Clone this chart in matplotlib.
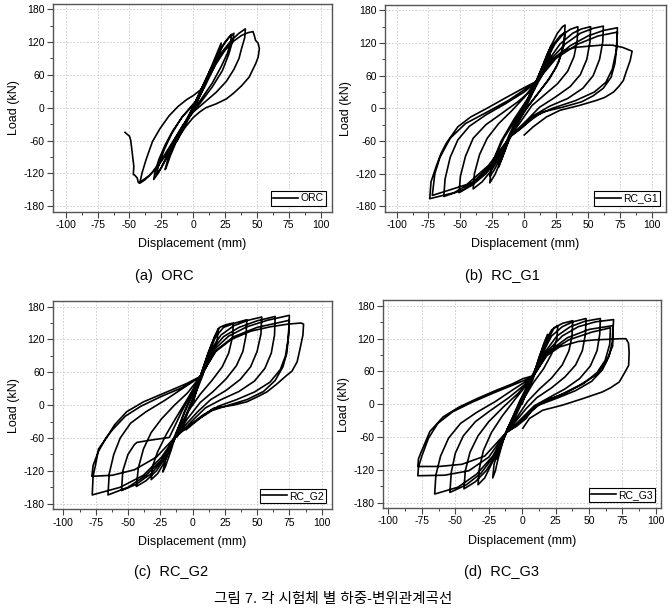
import numpy as np
import matplotlib.pyplot as plt
from matplotlib.ticker import AutoMinorLocator

plt.rcParams['font.family'] = ['Liberation Sans', 'Noto Sans CJK KR', 'DejaVu Sans']
plt.rcParams['axes.unicode_minus'] = False

specimens = ['ORC', 'RC_G1', 'RC_G2', 'RC_G3']
panel_tags = ['(a)', '(b)', '(c)', '(d)']
x_ticks = [-100, -75, -50, -25, 0, 25, 50, 75, 100]
y_ticks = [-180, -120, -60, 0, 60, 120, 180]
caption = '그림 7. 각 시험체 별 하중-변위관계곡선'

# load-displacement traces (mm, kN)
orc_trace = [
    (0, 0), (4, 22), (8, 42), (12, 62), (14, 72), (12, 58), (7, 30), (2, 5), (-4, -22), (-9, -45),
    (-13, -62), (-11, -50), (-6, -25), (0, 2),
    (6, 32), (12, 62), (17, 90), (21, 112), (22, 118), (21, 100), (16, 72), (9, 38), (2, 8), (-5, -22),
    (-12, -55), (-18, -88), (-21, -108), (-22, -113), (-20, -95), (-14, -62), (-6, -28), (2, 8),
    (8, 40), (14, 70), (20, 100), (25, 120), (29, 131), (30, 134), (29.5, 120), (27, 100), (22, 75),
    (15, 45), (7, 18), (0, -5), (-8, -32), (-15, -60), (-22, -95), (-27, -118), (-31, -131), (-30, -118),
    (-27, -95), (-22, -68), (-16, -42), (-8, -15), (3, 12),
    (9, 45), (16, 80), (23, 112), (28, 128), (32, 136), (31, 122), (28, 98), (23, 68), (15, 38), (6, 10),
    (-5, -22), (-13, -55), (-20, -88), (-25, -110), (-29, -122), (-27, -105), (-23, -78), (-17, -48),
    (-9, -18), (2, 12),
    (8, 40), (15, 72), (22, 100), (30, 123), (36, 136), (41, 144), (40.5, 128), (38, 108), (36, 90),
    (32, 70), (26, 48), (18, 28), (9, 10), (0, -8), (-8, -32), (-16, -62), (-24, -92), (-32, -118),
    (-38, -132), (-42, -138), (-40, -118), (-37, -95), (-32, -62), (-26, -38), (-19, -15), (-12, 2),
    (-5, 15), (0, 22), (6, 33),
    (12, 55), (18, 80), (25, 105), (32, 122), (38, 132), (43, 137), (47, 139), (48, 132), (49, 123),
    (51, 118), (52, 108), (51, 92), (49, 80), (44, 56), (38, 40), (32, 27), (26, 16), (18, 7), (10, 0),
    (5, -8), (0, -18), (-6, -35), (-12, -55), (-20, -82), (-28, -108), (-35, -125), (-40, -133),
    (-43, -137), (-44, -128), (-46, -123), (-47, -122), (-46.6, -107), (-48, -80), (-49, -60),
    (-50, -52), (-52.6, -47), (-53.5, -45),
]

g1_trace = [
    (0, 0), (5, 30), (10, 52), (8, 35), (3, 10), (-3, -15), (-8, -40), (-10, -50), (-8, -35), (-3, -10),
    (3, 15),
    (8, 42), (13, 70), (18, 100), (21, 115), (20, 95), (15, 65), (8, 35), (0, 5), (-6, -25), (-12, -58),
    (-17, -90), (-20, -108), (-18, -85), (-12, -50), (-5, -15), (3, 18),
    (9, 48), (15, 80), (21, 115), (26, 138), (30, 150), (32, 153), (31.5, 130), (29, 100), (25, 75),
    (18, 50), (10, 25), (2, 0), (-6, -30), (-12, -58), (-18, -95), (-23, -122), (-27, -137), (-26, -115),
    (-22, -85), (-16, -55), (-8, -25), (0, 5), (8, 40),
    (14, 75), (22, 115), (28, 133), (32, 140), (31, 115), (27, 85), (20, 55), (10, 25), (0, -5),
    (-10, -45), (-18, -90), (-24, -115), (-27, -125), (-25, -100), (-18, -60), (-8, -20), (2, 15), (9, 45),
    (16, 82), (24, 118), (30, 135), (36, 145), (42, 150), (41.5, 125), (39, 95), (34, 68), (26, 45),
    (16, 25), (6, 5), (-3, -25), (-11, -52), (-18, -85), (-26, -115), (-33, -135), (-40, -148),
    (-39, -120), (-35, -85), (-29, -55), (-20, -28), (-10, -5), (0, 20), (9, 48),
    (18, 85), (28, 118), (38, 138), (45, 146), (52, 150), (51.5, 122), (49, 90), (44, 62), (36, 40),
    (24, 20), (12, 2), (2, -22), (-10, -50), (-20, -92), (-30, -120), (-40, -140), (-51, -155),
    (-50, -125), (-46, -88), (-40, -55), (-30, -30), (-18, -10), (-5, 12), (5, 32), (10, 50),
    (20, 88), (32, 118), (44, 138), (54, 147), (62, 151), (61.5, 122), (59, 90), (54, 60), (46, 37),
    (34, 18), (20, 4), (6, -15), (-3, -35), (-11, -52), (-22, -95), (-35, -128), (-48, -150), (-63, -162),
    (-62, -130), (-58, -90), (-52, -58), (-43, -33), (-30, -12), (-15, 8), (0, 30), (10, 50),
    (22, 88), (36, 115), (50, 133), (62, 143), (73, 148), (72.5, 112), (71, 82), (68, 57), (62, 37),
    (54, 23), (45, 12), (30, 2), (14, -7), (5, -22), (-3, -38), (-11, -52), (-25, -102), (-40, -135),
    (-55, -155), (-74, -166), (-73, -135), (-69, -107), (-65, -82), (-61, -64), (-52, -34), (-42, -16),
    (-30, -1), (-14, 20), (0, 38), (10, 50),
    (25, 92), (42, 118), (58, 133), (73, 140), (72, 105), (69, 72), (64, 48), (55, 30), (40, 14),
    (22, 0), (8, -15), (-2, -35), (-11, -52), (-28, -105), (-45, -140), (-72, -160), (-70, -120),
    (-66, -90), (-58, -55), (-46, -28), (-30, -8), (-12, 15), (10, 50),
    (20, 85), (30, 105), (40, 112), (50, 114), (60, 116), (69, 116), (77, 112), (84.5, 105), (83, 88),
    (80, 68), (77.6, 51), (74, 40), (70, 30), (63, 20), (56.6, 14.6), (43.5, 5.5), (28, -3.6),
    (17.4, -15.8), (7, -34), (0, -49),
]

g2_trace = [
    (0, 0), (4, 35), (8, 60), (10, 72), (8, 55), (3, 25), (-3, -10), (-8, -40), (-12, -58), (-10, -45),
    (-5, -18), (0, 12), (5, 45),
    (10, 80), (15, 112), (19, 135), (20, 140), (19, 118), (15, 92), (9, 62), (2, 30), (-6, -10),
    (-12, -48), (-17, -85), (-21, -112), (-23, -122), (-21, -100), (-16, -68), (-9, -30), (-2, 10), (6, 52),
    (12, 95), (17, 125), (21, 142), (26, 147), (31.6, 150), (31, 125), (28, 95), (23, 70), (15, 45),
    (6, 20), (-3, -10), (-10, -42), (-16, -72), (-22, -105), (-27, -125), (-32, -136), (-31, -112),
    (-27, -85), (-20, -52), (-12, -20), (-3, 15), (6, 52),
    (12, 92), (18, 125), (24, 142), (33, 150), (42, 156), (41.5, 128), (39, 98), (34, 72), (26, 48),
    (16, 25), (6, 5), (-4, -25), (-13, -57), (-20, -92), (-28, -120), (-36, -138), (-43.5, -148.5),
    (-42, -115), (-38, -80), (-32, -50), (-24, -25), (-14, 0), (-4, 22), (6, 52),
    (14, 100), (22, 128), (32, 145), (43, 155), (53.6, 161), (53, 130), (50, 98), (45, 70), (37, 47),
    (26, 27), (14, 10), (4, -12), (-5, -35), (-13, -57), (-22, -97), (-32, -125), (-44, -145), (-55, -156),
    (-54, -120), (-50, -90), (-45, -72), (-43, -68), (-30, -63), (-18, -59), (-8, -10), (6, 52),
    (14, 98), (24, 125), (36, 142), (50, 154), (64, 162), (63.5, 128), (61, 95), (56, 67), (48, 44),
    (36, 25), (22, 10), (10, -5), (0, -28), (-7, -45), (-13, -57), (-24, -100), (-36, -128), (-50, -150),
    (-65.5, -164), (-64.5, -125), (-61, -90), (-56, -60), (-48, -33), (-36, -12), (-22, 8), (-8, 30), (6, 52),
    (16, 100), (28, 126), (42, 143), (58, 155), (75, 164), (74.5, 130), (73, 95), (70, 70), (64, 45),
    (55, 25), (42, 10), (28, 0), (15, -10), (5, -25), (-5, -42), (-13, -57), (-24, -95), (-38, -128),
    (-56, -150), (-77.7, -164), (-77, -130), (-74.6, -103), (-72.8, -80), (-66.8, -60), (-60.4, -36),
    (-51, -12), (-38, 6), (-20, 24), (-5, 39), (6, 52),
    (18, 100), (32, 125), (50, 142), (75, 155), (74, 120), (72, 90), (68, 65), (60, 42), (48, 24),
    (34, 10), (20, -2), (8, -18), (-3, -38), (-13, -57), (-28, -95), (-45, -118), (-62, -128), (-78, -130),
    (-77, -110), (-73, -85), (-67, -60), (-62, -45), (-52, -20), (-40, -2), (-25, 15), (-8, 32), (6, 52),
    (18, 98), (30, 120), (45, 135), (60, 143), (74, 148), (84, 150), (86, 148), (85.5, 128), (83, 100),
    (81, 79), (77, 62), (73, 54.5), (65, 38), (57.5, 24), (50, 15), (42, 6), (31.6, 0), (16, -6),
    (5.7, -24), (0, -35), (-5, -45),
]

g3_trace = [
    (0, 0), (4, 30), (8, 50), (10, 60), (8, 45), (3, 20), (-3, -12), (-8, -38), (-12, -52), (-10, -40),
    (-5, -15), (0, 12), (8, 50),
    (12, 80), (16, 110), (19, 128), (18, 110), (13, 80), (6, 45), (-2, 5), (-10, -40), (-16, -78),
    (-19, -100), (-17, -80), (-11, -45), (-3, -5), (8, 50),
    (13, 88), (18, 118), (22, 136), (26.6, 144), (26, 120), (22, 92), (16, 65), (8, 38), (0, 5),
    (-8, -32), (-14, -65), (-18, -100), (-20, -122), (-22, -135), (-21, -110), (-17, -78), (-11, -45),
    (-3, -5), (8, 50),
    (14, 90), (20, 122), (24, 140), (30, 148), (37.8, 153), (37.3, 125), (35, 98), (30, 72), (22, 48),
    (13, 28), (4, 5), (-5, -28), (-12, -52), (-18, -85), (-24, -115), (-28, -135), (-33, -147.5),
    (-32, -118), (-29, -85), (-23, -52), (-15, -22), (-5, 10), (8, 50),
    (15, 92), (22, 125), (30, 142), (38, 151), (47.8, 157), (47.3, 128), (45, 98), (40, 72), (32, 50),
    (22, 30), (11, 12), (3, -8), (-5, -32), (-12, -52), (-19, -92), (-27, -122), (-35, -142),
    (-43.5, -155), (-42.5, -122), (-39, -88), (-33, -58), (-25, -32), (-14, -5), (-3, 20), (8, 50),
    (16, 92), (26, 125), (36, 142), (47, 152), (58.5, 157), (58, 128), (56, 98), (51, 70), (43, 47),
    (32, 28), (20, 12), (9, -3), (0, -25), (-6, -40), (-12, -52), (-21, -95), (-31, -127), (-42, -148),
    (-54, -161.5), (-53, -125), (-50, -90), (-44, -58), (-35, -32), (-24, -12), (-10, 12), (0, 32), (8, 50),
    (18, 95), (30, 125), (42, 142), (55, 151), (68.4, 155), (67.7, 130), (67.7, 107), (62.7, 77),
    (55, 53), (42.8, 34.6), (28, 16.4), (15.4, 4.3), (8, -8), (3, -26), (-4, -40), (-12, -52), (-22, -95),
    (-34, -128), (-48, -152), (-65.4, -164.5), (-64.5, -130), (-61, -95), (-55, -62), (-46, -35),
    (-34, -15), (-20, 5), (-6, 28), (8, 50),
    (20, 97), (34, 122), (50, 137), (68, 144), (67.5, 115), (65, 88), (60, 63), (52, 42), (40, 25),
    (26, 11), (12, -2), (3, -22), (-5, -40), (-12, -52), (-25, -97), (-40, -122), (-58, -130), (-78, -131),
    (-77.5, -115), (-75, -95), (-70, -62), (-63, -35), (-52, -14), (-38, 3), (-22, 20), (-7, 35), (8, 50),
    (20, 95), (35, 118), (52, 132), (66, 140), (65.5, 110), (62, 80), (56, 58), (46, 38), (32, 20),
    (16, 5), (5, -15), (-4, -36), (-12, -52), (-28, -95), (-45, -110), (-62, -114), (-78, -114),
    (-77.5, -100), (-75.4, -87), (-69, -50), (-59, -23), (-47, -5), (-34, 10), (-19.4, 25.5), (-7, 37.6),
    (0.5, 46.7), (8, 52),
    (16, 85), (28, 105), (42, 115), (55, 118), (66, 119), (73, 120), (77.6, 120), (79.5, 112), (80, 95),
    (79.6, 71), (76, 55), (72.6, 40.7), (66, 30), (60, 22.5), (45, 10), (30, -1.8), (15.4, -11),
    (5.5, -26), (0.5, -44),
]

traces = [orc_trace, g1_trace, g2_trace, g3_trace]

fig = plt.figure(figsize=(6.72, 6.12), dpi=100)

axes_pos = [[0.079, 0.654, 0.415, 0.340],
            [0.573, 0.654, 0.418, 0.338],
            [0.079, 0.168, 0.415, 0.340],
            [0.570, 0.170, 0.414, 0.339]]
x_lims = [(-110, 109), (-109, 111), (-108, 108), (-104, 104)]
tag_pos = [(164, 276), (502, 276), (171, 572), (502, 572)]

for i in range(4):
    ax = fig.add_axes(axes_pos[i])
    d, p = zip(*traces[i])
    ax.plot(d, p, color='black', lw=1.2, label=specimens[i], solid_joinstyle='round')
    ax.set_xlim(x_lims[i])
    ax.set_ylim(-190, 190)
    ax.set_xticks(x_ticks)
    ax.set_yticks(y_ticks)
    ax.xaxis.set_minor_locator(AutoMinorLocator(2))
    ax.yaxis.set_minor_locator(AutoMinorLocator(2))
    ax.tick_params(which='major', direction='out', length=4, width=0.8, labelsize=7.5, pad=2, color='#444444')
    ax.tick_params(which='minor', direction='out', length=2, width=0.7, color='#444444')
    ax.grid(True, which='major', color='#c8c8c8', linestyle=(0, (2, 2)), lw=0.6)
    for s in ax.spines.values():
        s.set_color('#555555')
        s.set_linewidth(1.0)
    ax.set_xlabel('Displacement (mm)', fontsize=9, labelpad=6)
    ax.set_ylabel('Load (kN)', fontsize=9, labelpad=3)
    leg = ax.legend(loc='lower right', fontsize=7.5, handlelength=2.4, borderaxespad=0.6,
                    fancybox=False, framealpha=1, edgecolor='black', borderpad=0.2,
                    handletextpad=0.2)
    leg.get_frame().set_linewidth(0.8)
    fig.text(tag_pos[i][0] / 672, 1 - tag_pos[i][1] / 612, panel_tags[i] + '  ' + specimens[i],
             ha='center', va='center', fontsize=10.5)

fig.text(333 / 672, 1 - 599 / 612, caption, ha='center', va='center', fontsize=10.5)

plt.savefig('out.png', dpi=100)
